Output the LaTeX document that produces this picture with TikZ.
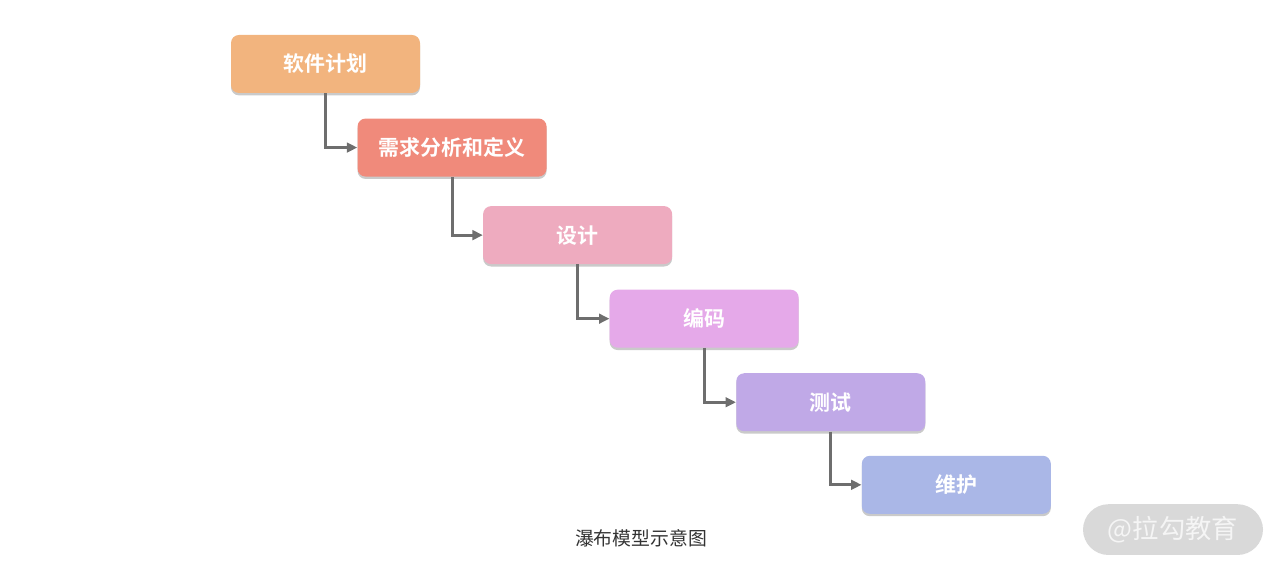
\documentclass[tikz,border=0pt]{standalone}
\usepackage{fontspec}
\setmainfont{Noto Sans CJK SC}
\newfontfamily\cjkbold{Noto Sans CJK SC Bold}
\usetikzlibrary{positioning,arrows.meta,shadows}
\definecolor{planc}{HTML}{F2B47E}
\definecolor{reqc}{HTML}{F08A7B}
\definecolor{desc}{HTML}{EEABBF}
\definecolor{codec}{HTML}{E5A9E9}
\definecolor{testc}{HTML}{C0A9E7}
\definecolor{mainc}{HTML}{AAB7E7}
\definecolor{arrowc}{HTML}{6E6E6E}
\tikzset{
  stagebox/.style={rounded corners=0.2cm,minimum width=4.725cm,minimum height=1.45cm,
    inner sep=0pt,text=white,font=\cjkbold\fontsize{14.9pt}{16pt}\selectfont,
    drop shadow={shadow xshift=0pt,shadow yshift=-0.06cm,opacity=0.35,fill=black!60}},
  flow/.style={-{Triangle[length=2.6mm,width=2.4mm]},line width=2.1pt,arrowc},
  caplbl/.style={font=\fontsize{13.4pt}{15pt}\selectfont,text=black!80},
  wmark/.style={rounded corners=0.64cm,fill=black!15,text=black!4,minimum width=4.5cm,
    minimum height=1.27cm,inner sep=0pt,font=\fontsize{18.7pt}{20pt}\selectfont},
}
\begin{document}
\begin{tikzpicture}[node distance=0.625cm and -1.575cm]
  \useasboundingbox (0,0) rectangle (32,-14.3);
  \node[stagebox,fill=planc] (plan) at (8.1375,-1.6) {软件计划};
  \node[stagebox,fill=reqc,below right=of plan] (req) {需求分析和定义};
  \node[stagebox,fill=desc,below right=0.725cm and -1.6cm of req] (des) {设计};
  \node[stagebox,fill=codec,below right=of des] (code) {编码};
  \node[stagebox,fill=testc,below right=of code] (test) {测试};
  \node[stagebox,fill=mainc,below right=0.6cm and -1.6cm of test] (maint) {维护};
  \draw[flow] (plan.south) |- (req.west);
  \draw[flow] (req.south) |- (des.west);
  \draw[flow] (des.south) |- (code.west);
  \draw[flow] (code.south) |- (test.west);
  \draw[flow] (test.south) |- (maint.west);
  \node[caplbl] (cap) at (16.025,-13.45) {瀑布模型示意图};
  \node[wmark] (wm) at (29.325,-13.24) {@拉勾教育};
\end{tikzpicture}
\end{document}
